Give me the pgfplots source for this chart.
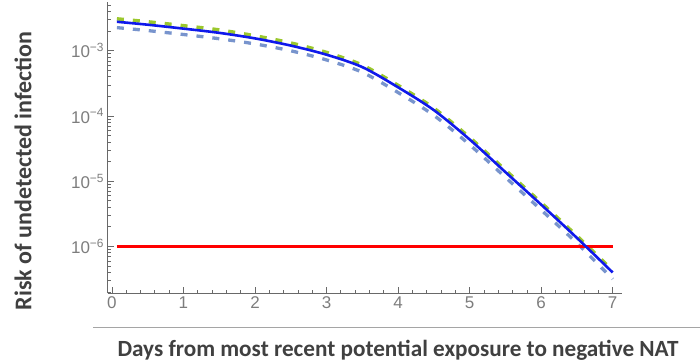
\documentclass[border=0pt]{standalone}
\usepackage{pgfplots}
\pgfplotsset{compat=1.18}
\usepackage{fontspec}
\setmainfont{Liberation Sans}
\newfontfamily\calibri{Carlito}
\definecolor{axgray}{RGB}{105,105,105}
\definecolor{tickgray}{RGB}{125,125,125}
\definecolor{lblgray}{RGB}{64,64,64}
\definecolor{mblue}{RGB}{15,25,235}
\definecolor{mgreen}{RGB}{155,200,45}
\definecolor{mlow}{RGB}{120,148,205}
\definecolor{rulegray}{RGB}{165,165,165}
\begin{document}
\begin{tikzpicture}[x=1pt,y=1pt]
\useasboundingbox (0,0) rectangle (700,361);
\begin{axis}[
  at={(107.6pt,68pt)}, anchor=south west,
  scale only axis, width=514.4pt, height=291pt,
  xmin=-0.06, xmax=7.13,
  ymode=log, ymin=1.93e-7, ymax=5.6e-3,
  axis lines=left, axis line style={axgray, line width=0.8pt, -},
  tick align=inside, major tick length=6pt, minor tick length=3.5pt,
  every tick/.style={axgray, line width=0.7pt},
  xtick={0,1,2,3,4,5,6,7}, minor x tick num=4,
  ytick={1e-6,1e-5,1e-4,1e-3},
  yticklabels={10\textsuperscript{−6},10\textsuperscript{−5},10\textsuperscript{−4},10\textsuperscript{−3}},
  minor ytick={2e-7,3e-7,4e-7,5e-7,6e-7,7e-7,8e-7,9e-7,
    2e-6,3e-6,4e-6,5e-6,6e-6,7e-6,8e-6,9e-6,
    2e-5,3e-5,4e-5,5e-5,6e-5,7e-5,8e-5,9e-5,
    2e-4,3e-4,4e-4,5e-4,6e-4,7e-4,8e-4,9e-4,
    2e-3,3e-3,4e-3,5e-3},
  /pgf/number format/assume math mode=true,
  ticklabel style={font=\fontsize{17}{17}\selectfont, text=tickgray},
  clip=false,
]
\addplot[mgreen, line width=3.5pt, dash pattern=on 7pt off 9pt, smooth] coordinates {
(0.07,3.090e-3) (0.5,2.786e-3) (1.0,2.427e-3) (1.5,2.089e-3) (2.0,1.698e-3)
(2.5,1.318e-3) (3.0,9.44e-4) (3.5,6.03e-4) (4.0,2.95e-4) (4.5,1.318e-4)
(5.0,4.68e-5) (5.5,1.479e-5) (6.0,4.68e-6) (6.5,1.445e-6) (7.0,4.27e-7)};
\addplot[mlow, line width=3.3pt, dash pattern=on 7pt off 9pt, smooth] coordinates {
(0.07,2.265e-3) (0.5,2.042e-3) (1.0,1.778e-3) (1.5,1.531e-3) (2.0,1.274e-3)
(2.5,1.000e-3) (3.0,7.24e-4) (3.5,4.68e-4) (4.0,2.291e-4) (4.5,1.023e-4)
(5.0,3.63e-5) (5.5,1.148e-5) (6.0,3.63e-6) (6.5,1.122e-6) (7.0,3.16e-7)};
\addplot[red, line width=2.2pt] coordinates {(0.07,1e-6) (7.0,1e-6)};
\addplot[mblue, line width=2.6pt, smooth] coordinates {
(0.07,2.786e-3) (0.5,2.512e-3) (1.0,2.188e-3) (1.5,1.884e-3) (2.0,1.549e-3)
(2.5,1.202e-3) (3.0,8.71e-4) (3.5,5.62e-4) (4.0,2.754e-4) (4.5,1.230e-4)
(5.0,4.37e-5) (5.5,1.380e-5) (6.0,4.37e-6) (6.5,1.349e-6) (7.0,3.98e-7)};
\end{axis}
\draw[rulegray, line width=0.8pt] (93,34) -- (700,34);
\node[rotate=90, text=lblgray, font=\calibri\bfseries\fontsize{24}{24}\selectfont] at (23,190) {Risk of undetected infection};
\node[text=lblgray, font=\calibri\bfseries\fontsize{23.2}{23.2}\selectfont] at (398,11) {Days from most recent potential exposure to negative NAT};
\end{tikzpicture}
\end{document}
